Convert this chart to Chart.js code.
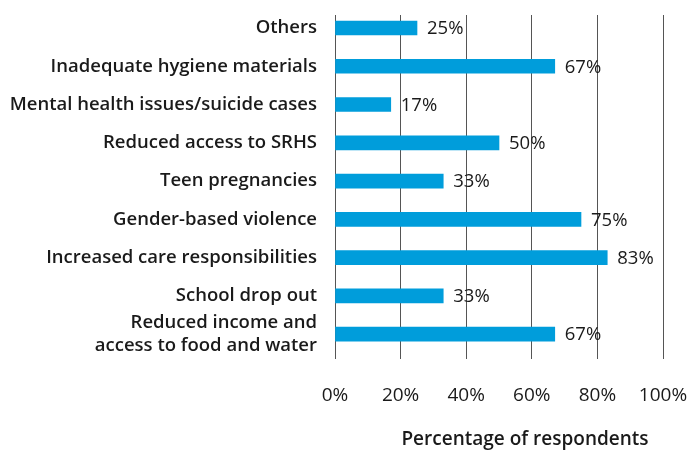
<!DOCTYPE html>
<html>
<head>
<meta charset="utf-8">
<script src="https://cdn.jsdelivr.net/npm/chart.js@4.4.0/dist/chart.umd.min.js"></script>
<style>
html,body{margin:0;padding:0;background:#fff;}
#wrap{width:694px;height:450px;position:relative;}
</style>
</head>
<body>
<div id="wrap"><canvas id="c" width="694" height="450"></canvas></div>
<script>
const categories = [
  "Others",
  "Inadequate hygiene materials",
  "Mental health issues/suicide cases",
  "Reduced access to SRHS",
  "Teen pregnancies",
  "Gender-based violence",
  "Increased care responsibilities",
  "School drop out",
  ["Reduced income and", "access to food and water"]
];
const percentages = [25, 67, 17, 50, 33, 75, 83, 33, 67];
const xTicks = [0, 20, 40, 60, 80, 100];
const axisTitle = "Percentage of respondents";

const FONT = "'Open Sans', sans-serif";
const TEXT = "#1a1a1a";
const Y_MIN = -0.34, Y_MAX = 8.65;

const valueLabels = {
  id: 'valueLabels',
  afterDatasetsDraw(chart) {
    const ctx = chart.ctx;
    const meta = chart.getDatasetMeta(0);
    ctx.save();
    ctx.font = "400 18.5px " + FONT;
    ctx.fillStyle = TEXT;
    ctx.textAlign = 'left';
    ctx.textBaseline = 'middle';
    meta.data.forEach((bar, i) => {
      ctx.fillText(percentages[i] + '%', bar.x + 10, bar.y + 1);
    });
    ctx.restore();
  }
};

const axisTitlePlugin = {
  id: 'axisTitlePlugin',
  afterDraw(chart) {
    const ctx = chart.ctx;
    const a = chart.chartArea;
    ctx.save();
    ctx.font = "600 19px " + FONT;
    ctx.fillStyle = TEXT;
    ctx.textAlign = 'center';
    ctx.textBaseline = 'middle';
    ctx.fillText(axisTitle, (a.left + a.right) / 2 + 26, 440);
    ctx.restore();
  }
};

new Chart(document.getElementById('c'), {
  type: 'bar',
  data: {
    datasets: [{
      data: percentages.map((v, i) => ({ x: v, y: i })),
      backgroundColor: '#009ddb',
      barThickness: 14,
      borderWidth: 0
    }]
  },
  options: {
    indexAxis: 'y',
    responsive: false,
    animation: false,
    layout: { padding: { top: 15, right: 31, left: 0, bottom: 0 } },
    plugins: { legend: { display: false }, tooltip: { enabled: false } },
    scales: {
      x: {
        type: 'linear',
        min: 0, max: 100,
        afterBuildTicks(scale) { scale.ticks = xTicks.map(v => ({ value: v })); },
        afterFit(scale) {
          scale.height = 91;
          scale.paddingLeft = 0; scale.paddingRight = 0;
          scale.paddingTop = 0; scale.paddingBottom = 0;
        },
        grid: { color: '#555', lineWidth: 1, drawTicks: false },
        border: { display: false },
        ticks: {
          padding: 25,
          color: TEXT,
          font: { family: FONT, size: 19, weight: '400' },
          callback: v => v + '%',
          maxRotation: 0,
          autoSkip: false
        }
      },
      y: {
        type: 'linear',
        reverse: true,
        offset: false,
        min: Y_MIN,
        max: Y_MAX,
        bounds: 'data',
        afterBuildTicks(scale) {
          scale.ticks = categories.map((c, i) => ({ value: i }));
          scale.min = Y_MIN;
          scale.max = Y_MAX;
        },
        afterFit(scale) {
          scale.width = 335;
          scale.paddingLeft = 0; scale.paddingRight = 0;
          scale.paddingTop = 0; scale.paddingBottom = 0;
        },
        grid: { display: false, drawTicks: false },
        border: { display: false },
        ticks: {
          padding: 18,
          color: TEXT,
          autoSkip: false,
          callback: v => categories[v],
          font: { family: FONT, size: 18.5, weight: '600', lineHeight: 1.25 }
        }
      }
    }
  },
  plugins: [valueLabels, axisTitlePlugin]
});
</script>
</body>
</html>
